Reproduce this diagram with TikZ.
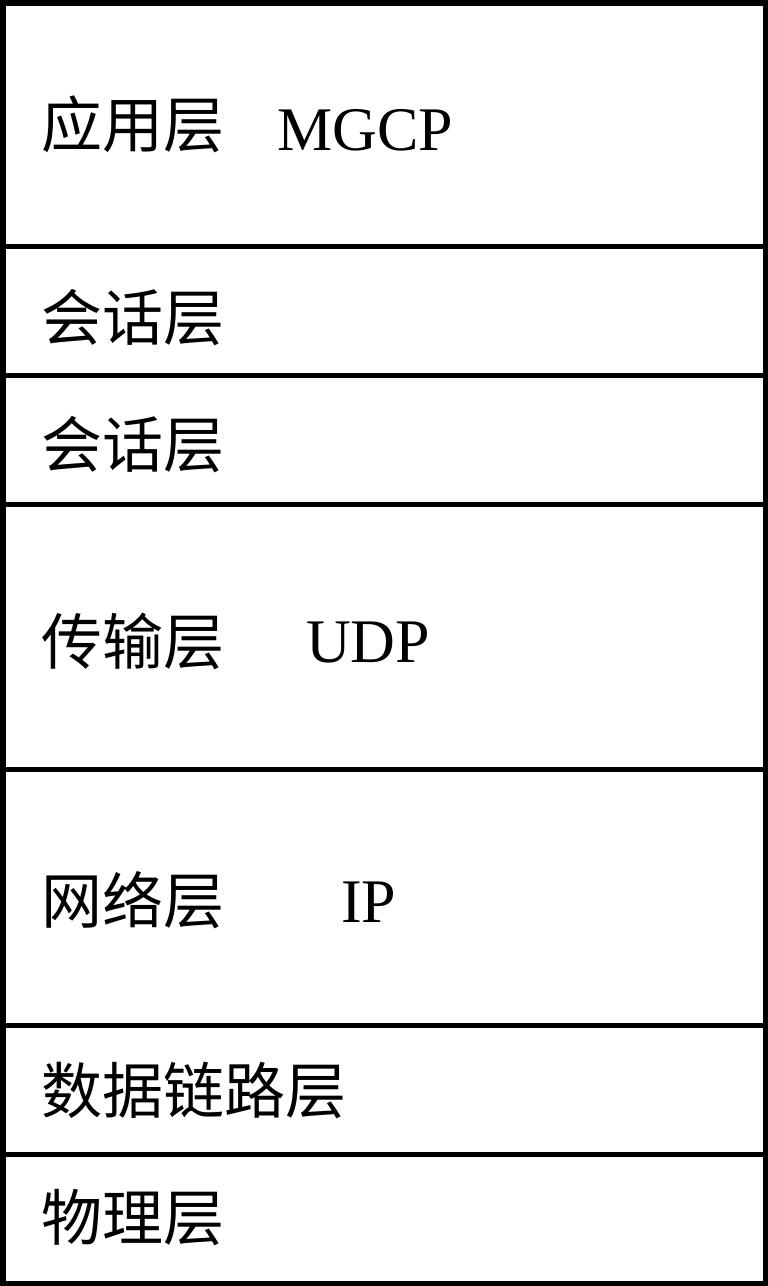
\documentclass[tikz,border=0pt]{standalone}
\usepackage{fontspec}
\setmainfont{Liberation Serif}
\newfontfamily\cjk{Noto Sans CJK SC}
\begin{document}
\begin{tikzpicture}[x=1pt,y=-1pt,
  layer/.style={draw=black,line width=5.5pt},
  cjklabel/.style={anchor=west,inner sep=0pt,font=\cjk\fontsize{61}{61}\selectfont},
  latlabel/.style={anchor=base west,inner sep=0pt,font=\fontsize{62}{62}\selectfont}]
\useasboundingbox (0,0) rectangle (768,1286);
\fill[white] (0,0) rectangle (768,1286);
% layers
\draw[layer] (2.75,2.75) rectangle (765.25,246.5);
\draw[layer] (2.75,246.5) rectangle (765.25,375.5);
\draw[layer] (2.75,375.5) rectangle (765.25,504.5);
\draw[layer] (2.75,504.5) rectangle (765.25,769.5);
\draw[layer] (2.75,769.5) rectangle (765.25,1025.5);
\draw[layer] (2.75,1025.5) rectangle (765.25,1154.5);
\draw[layer] (2.75,1154.5) rectangle (765.25,1283.25);
% labels
\node[cjklabel] (app) at (41,124) {应用层};
\node[latlabel] (mgcp) at (277,150) {MGCP};
\node[cjklabel] (ses1) at (41,318) {会话层};
\node[cjklabel] (ses2) at (41,445) {会话层};
\node[cjklabel] (tra) at (41,641) {传输层};
\node[latlabel] (udp) at (306,662) {UDP};
\node[cjklabel] (net) at (41,900) {网络层};
\node[latlabel] (ip) at (341,922) {IP};
\node[cjklabel] (dl) at (41,1090) {数据链路层};
\node[cjklabel] (phy) at (41,1218) {物理层};
\end{tikzpicture}
\end{document}
